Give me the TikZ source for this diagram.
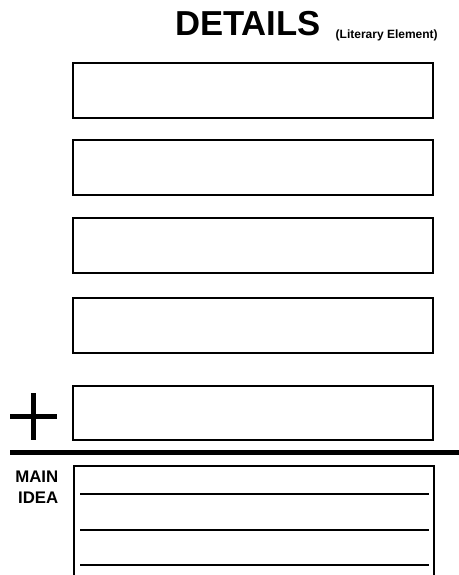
\documentclass[tikz,border=0pt]{standalone}
\usepackage{fontspec}
\setmainfont{Liberation Sans}
\usetikzlibrary{positioning}

\begin{document}
\begin{tikzpicture}[x=0.75pt,y=-0.75pt,every node/.style={align=center,font=\bfseries}]
  \tikzset{detailbox/.style={draw,line width=1.5pt,minimum width=270pt,minimum height=41pt,inner sep=0pt}}
  \clip (0,0) rectangle (459,575);
  \node[font=\bfseries\fontsize{26}{30}\selectfont] (title) at (248,24) {DETAILS};
  \node[font=\bfseries\fontsize{9}{11}\selectfont,anchor=west] (sub) at (331,35) {(Literary Element)};
  \node[detailbox] (box1) at (253,90.5) {};
  \node[detailbox] (box2) at (253,167.5) {};
  \node[detailbox] (box3) at (253,245.5) {};
  \node[detailbox] (box4) at (253,325.5) {};
  \node[detailbox] (box5) at (253,413) {};
  % plus sign
  \draw[line width=3.75pt] (33,393) -- (33,440);
  \draw[line width=3.75pt] (10,416) -- (57,416);
  % divider
  \draw[line width=3.75pt] (10,452) -- (459,452);
  % main idea
  \node[font=\bfseries\fontsize{12.6}{15.75}\selectfont,align=right,anchor=east] (mainlbl) at (63,487) {MAIN\\IDEA};
  \node[detailbox,minimum height=120pt,anchor=north] (mainbox) at (254,465) {};
  \draw[line width=1.5pt] (80,494) -- (429,494);
  \draw[line width=1.5pt] (80,530) -- (429,530);
  \draw[line width=1.5pt] (80,565) -- (429,565);
\end{tikzpicture}
\end{document}
